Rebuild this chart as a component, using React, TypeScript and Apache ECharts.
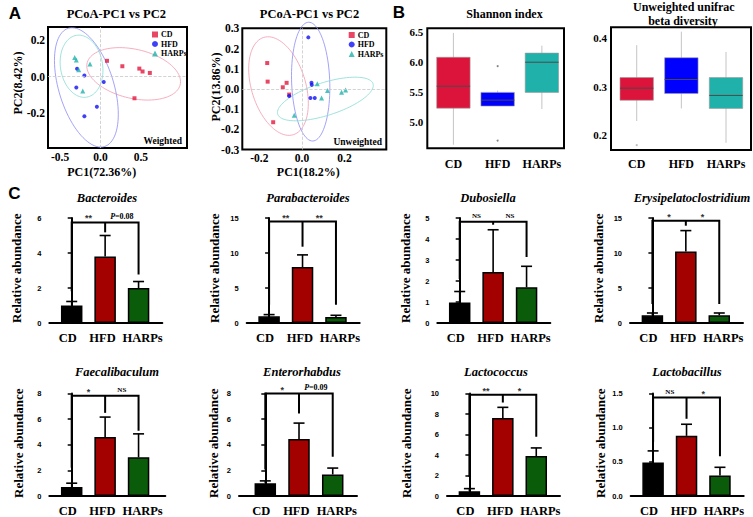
import React, { useEffect, useRef } from "react";
import * as echarts from "echarts";

const SERIF = "'Liberation Serif', 'Times New Roman', serif";
const SANS = "'Liberation Sans', Arial, sans-serif";

const groups = ["CD", "HFD", "HARPs"];
const scatterColors = ["#E3173E", "#1010F5", "#20B2AA"];
const ellipseColors = ["#F29AAE", "#8C8CF5", "#86DCD3"];
const boxColors = ["#DC143C", "#0000FF", "#20B2AA"];
const barColors = ["#000000", "#A30000", "#0A5C0A"];

// ---- Panel A: weighted PCoA (PC1, PC2)
const wCD = [[0.08, 0.087], [0.27, 0.057], [0.48, 0.044], [0.52, 0.028], [0.61, 0.02], [0.42, -0.12]];
const wHFD = [[-0.29, 0.043], [-0.2, 0.006], [0.04, -0.03], [-0.3, -0.06], [-0.045, -0.167], [-0.2, -0.22]];
const wHARPs = [[-0.32, 0.105], [-0.3, 0.092], [-0.27, 0.037], [-0.13, 0.07], [-0.22, -0.08]];
// ellipse: centre x, centre y, half extent x, half extent y, correlation
const wEllipses = [[0.41, 0.015, 0.58, 0.145, -0.3], [-0.175, -0.06, 0.395, 0.33, -0.45], [-0.235, 0.057, 0.265, 0.172, -0.13]];

// ---- Panel A: unweighted PCoA
const uCD = [[-0.163, 0.128], [-0.161, 0.036], [-0.072, 0.03], [-0.09, 0.008], [-0.06, -0.028], [-0.135, -0.165]];
const uHFD = [[0.03, 0.255], [0.045, 0.03], [0.046, 0.02], [-0.06, -0.035], [0.04, -0.045], [0.06, -0.045]];
const uHARPs = [[0.072, 0.025], [0.12, -0.008], [0.205, -0.005], [0.186, -0.016], [0.092, -0.045], [-0.036, -0.13]];
const uEllipses = [[-0.11, 0.014, 0.14, 0.244, -0.35], [0.041, 0.036, 0.09, 0.294, -0.1], [0.11, -0.05, 0.225, 0.108, 0.62]];

// ---- Panel B: box stats [min, Q1, median, Q3, max]
const shannonStats = [[4.61, 5.225, 5.594, 6.08, 6.49], [5.26, 5.26, 5.36, 5.49, 5.52], [5.21, 5.49, 5.997, 6.15, 6.275]];
const shannonOutliers = [[1, 5.93], [1, 4.68]];
const shannonTicks = [5.0, 5.5, 6.0, 6.5];
const unifracStats = [[0.229, 0.272, 0.297, 0.319, 0.386], [0.255, 0.286, 0.315, 0.36, 0.414], [0.184, 0.255, 0.282, 0.319, 0.372]];
const unifracOutliers = [[0, 0.179]];
const unifracTicks = [0.2, 0.3, 0.4];

// ---- Panel C: bar charts
const barTitles = ["Bacteroides", "Parabacteroides", "Dubosiella", "Erysipelatoclostridium", "Faecalibaculum", "Enterorhabdus", "Lactococcus", "Lactobacillus"];
const barMeans = [[1.0, 3.8, 2.0], [0.95, 8.0, 0.86], [0.98, 2.43, 1.7], [1.09, 10.23, 1.09], [0.7, 4.6, 3.02], [1.0, 4.44, 1.68], [0.47, 7.6, 3.9], [0.49, 0.88, 0.3]];
const barErrTops = [[1.23, 5.0, 2.37], [1.2, 9.73, 1.1], [1.5, 4.44, 2.7], [1.43, 13.2, 1.43], [1.0, 6.16, 4.85], [1.18, 5.69, 2.18], [0.72, 8.65, 4.69], [0.66, 1.05, 0.42]];
const barYMax = [6, 15, 5, 15, 8, 8, 10, 1.5];
const barYStep = [2, 5, 1, 5, 2, 2, 2, 0.5];
const bracketY = [5.75, 14.5, 4.82, 14.6, 7.82, 8.0, 9.88, 1.44];
const stemBottoms = [[1.82, 5.18, 2.77], [2.6, 10.9, 2.6], [2.1, 4.68, 3.14], [2.7, 13.9, 2.7], [2.21, 6.49, 5.1], [2.06, 6.44, 3.06], [1.87, 9.12, 5.78], [0.79, 1.13, 0.58]];
const sigLeft = ["**", "**", "NS", "*", "*", "*", "**", "NS"];
const sigRight = ["P=0.08", "**", "NS", "*", "NS", "P=0.09", "*", "*"];

// layout (pixels / axis extents)
const barLayout = [
  { left: 49.3, top: 218, h: 105, w: 113, xmin: -0.67, xmax: 2.71, tx: 107, ty: 198, yx: 16.7, yy: 268.3 },
  { left: 246.7, top: 218, h: 105, w: 113, xmin: -0.67, xmax: 2.71, tx: 308, ty: 198, yx: 214, yy: 268.3 },
  { left: 437.3, top: 218, h: 105, w: 113, xmin: -0.67, xmax: 2.71, tx: 488, ty: 198, yx: 405, yy: 268.3 },
  { left: 630, top: 218, h: 105, w: 113, xmin: -0.67, xmax: 2.71, tx: 692, ty: 198, yx: 598.3, yy: 268.3 },
  { left: 49.3, top: 393.5, h: 106, w: 116, xmin: -0.67, xmax: 2.8, tx: 117, ty: 372, yx: 18.3, yy: 443.3 },
  { left: 239, top: 393.5, h: 106, w: 118, xmin: -0.78, xmax: 2.72, tx: 302, ty: 372, yx: 213.3, yy: 443.3 },
  { left: 447, top: 393.5, h: 106, w: 113, xmin: -0.67, xmax: 2.71, tx: 496, ty: 372, yx: 406.7, yy: 443.3 },
  { left: 630.7, top: 393.5, h: 106, w: 113, xmin: -0.67, xmax: 2.71, tx: 687, ty: 372, yx: 600, yy: 443.3 },
];
const barLabelPos = [-0.12, 0.92, 2.12];

function txt(text: string, x: number, y: number, size: number, o: any = {}) {
  return {
    type: "text",
    x,
    y,
    rotation: o.rot || 0,
    silent: true,
    style: {
      text,
      font: `${o.italic ? "italic " : ""}bold ${size}px ${o.fam || SERIF}`,
      fill: "#000",
      textAlign: o.align || "center",
      textVerticalAlign: "middle",
    },
  };
}

function ellipseSeries(grid: number, data: number[][]) {
  return {
    type: "custom",
    xAxisIndex: grid,
    yAxisIndex: grid,
    silent: true,
    clip: false,
    z: 1,
    encode: { x: 0, y: 1 },
    data,
    renderItem: (params: any, api: any) => {
      const cx = api.value(0), cy = api.value(1), rx = api.value(2), ry = api.value(3), rho = api.value(4);
      const phi = Math.asin(rho);
      const pts: number[][] = [];
      for (let k = 0; k <= 90; k++) {
        const t = (k / 90) * Math.PI * 2;
        pts.push(api.coord([cx + rx * Math.cos(t), cy + ry * Math.sin(t + phi)]));
      }
      return { type: "polyline", shape: { points: pts }, style: { fill: "none", stroke: ellipseColors[params.dataIndex], lineWidth: 0.8 } };
    },
  };
}

function scatterSeries(grid: number, sets: number[][][]) {
  const symbols = ["rect", "circle", "triangle"];
  const sizes = [4, 4, 5];
  return sets.map((d, i) => ({
    type: "scatter",
    name: groups[i],
    xAxisIndex: grid,
    yAxisIndex: grid,
    symbol: symbols[i],
    symbolSize: sizes[i],
    itemStyle: { color: scatterColors[i] },
    data: d,
    z: 3,
    markLine: i === 0 ? {
      silent: true,
      symbol: "none",
      label: { show: false },
      lineStyle: { color: "#c8c8c8", type: "dashed", width: 0.8 },
      data: [{ xAxis: 0 }, { yAxis: 0 }],
    } : undefined,
  }));
}

function boxSeries(grid: number, stats: number[][]) {
  return {
    type: "custom",
    xAxisIndex: grid,
    yAxisIndex: grid,
    silent: true,
    encode: { x: 0, y: 3 },
    data: stats.map((s, i) => [i, ...s]),
    renderItem: (params: any, api: any) => {
      const x = api.value(0);
      const pMin = api.coord([x, api.value(1)]);
      const pQ1 = api.coord([x, api.value(2)]);
      const pMed = api.coord([x, api.value(3)]);
      const pQ3 = api.coord([x, api.value(4)]);
      const pMax = api.coord([x, api.value(5)]);
      const hw = 16.7;
      const col = boxColors[params.dataIndex];
      return {
        type: "group",
        children: [
          { type: "line", shape: { x1: pMax[0], y1: pMax[1], x2: pMin[0], y2: pMin[1] }, style: { stroke: "#c4c4c4", lineWidth: 1 } },
          { type: "rect", shape: { x: pQ3[0] - hw, y: pQ3[1], width: 2 * hw, height: pQ1[1] - pQ3[1] }, style: { fill: col, stroke: "#9a9a9a", lineWidth: 0.6 } },
          { type: "line", shape: { x1: pMed[0] - hw, y1: pMed[1], x2: pMed[0] + hw, y2: pMed[1] }, style: { stroke: "#4a4a4a", lineWidth: 1 } },
        ],
      };
    },
  };
}

function sigText(label: string, x: number, y: number) {
  const isP = label.startsWith("P=");
  const isStar = label.startsWith("*");
  return {
    type: "text",
    x,
    y: y - (isStar ? 4 : 6),
    style: {
      text: isP ? `{i|P}${label.slice(1)}` : label,
      rich: isP ? { i: { fontStyle: "italic", fontWeight: "bold", fontSize: 8, fontFamily: SERIF } } : undefined,
      fontSize: isStar ? 9 : isP ? 8 : 7,
      fontWeight: "bold",
      fontFamily: isStar ? SANS : SERIF,
      fill: isStar ? "#333" : "#000",
      align: "center",
      verticalAlign: "middle",
      textAlign: "center",
      textVerticalAlign: "middle",
    },
  };
}

function buildOption() {
  const grids: any[] = [];
  const xAxes: any[] = [];
  const yAxes: any[] = [];
  const series: any[] = [];
  const lab = (size: number, fam = SERIF) => ({ fontSize: size, fontWeight: "bold", fontFamily: fam, color: "#000" });
  const frameGrid = (left: number, top: number, width: number, height: number) => ({
    left, top, width, height, show: true, borderColor: "#000", borderWidth: 2, backgroundColor: "transparent", containLabel: false,
  });
  const hidden = { axisLine: { show: false }, axisTick: { show: false }, splitLine: { show: false } };

  // grid 0: weighted
  grids.push(frameGrid(48, 27, 139, 121));
  xAxes.push({ gridIndex: 0, type: "value", min: -0.65, max: 1.07, ...hidden, axisLabel: { ...lab(11.5), margin: 3, customValues: [-0.5, 0, 0.5], formatter: (v: number) => v.toFixed(1) } });
  yAxes.push({ gridIndex: 0, type: "value", min: -0.395, max: 0.274, ...hidden, axisLabel: { ...lab(11.5), margin: 3, customValues: [-0.2, 0, 0.2], formatter: (v: number) => v.toFixed(1) } });
  // grid 1: unweighted
  grids.push(frameGrid(242.3, 28.3, 144, 121.2));
  xAxes.push({ gridIndex: 1, type: "value", min: -0.28, max: 0.396, ...hidden, axisLabel: { ...lab(11.5), margin: 2, customValues: [-0.2, 0, 0.2], formatter: (v: number) => v.toFixed(1) } });
  yAxes.push({ gridIndex: 1, type: "value", min: -0.3, max: 0.3, ...hidden, axisLabel: { ...lab(11.5), margin: 3, customValues: [-0.3, -0.2, -0.1, 0, 0.1, 0.2, 0.3], formatter: (v: number) => v.toFixed(1) } });
  // grid 2: shannon
  grids.push(frameGrid(427.3, 28.3, 136.7, 120));
  xAxes.push({ gridIndex: 2, type: "value", min: -0.59, max: 2.5, ...hidden, axisLabel: { ...lab(12), margin: 10, customValues: [0, 1, 2], formatter: (v: number) => groups[Math.round(v)] } });
  yAxes.push({ gridIndex: 2, type: "value", min: 4.55, max: 6.567, ...hidden, axisLabel: { ...lab(11), margin: 4, customValues: shannonTicks, formatter: (v: number) => v.toFixed(1) } });
  // grid 3: unifrac
  grids.push(frameGrid(611, 27.3, 140, 122.7));
  xAxes.push({ gridIndex: 3, type: "value", min: -0.576, max: 2.56, ...hidden, axisLabel: { ...lab(12), margin: 8, customValues: [0, 1, 2], formatter: (v: number) => groups[Math.round(v)] } });
  yAxes.push({ gridIndex: 3, type: "value", min: 0.169, max: 0.423, ...hidden, axisLabel: { ...lab(11), margin: 4, customValues: unifracTicks, formatter: (v: number) => v.toFixed(1) } });

  series.push(ellipseSeries(0, wEllipses), ...scatterSeries(0, [wCD, wHFD, wHARPs]));
  series.push(ellipseSeries(1, uEllipses), ...scatterSeries(1, [uCD, uHFD, uHARPs]));
  series.push(boxSeries(2, shannonStats), boxSeries(3, unifracStats));
  series.push({ type: "scatter", name: "outlier-s", xAxisIndex: 2, yAxisIndex: 2, symbolSize: 2, itemStyle: { color: "#666" }, data: shannonOutliers, silent: true });
  series.push({ type: "scatter", name: "outlier-u", xAxisIndex: 3, yAxisIndex: 3, symbolSize: 2, itemStyle: { color: "#aaa" }, data: unifracOutliers, silent: true });

  const graphics: any[] = [
    txt("A", 15, 13.7, 17, { fam: SANS }),
    txt("B", 398.8, 12.5, 17, { fam: SANS }),
    txt("C", 14.5, 193, 17, { fam: SANS }),
    txt("PCoA-PC1 vs PC2", 116.3, 14, 12.5),
    txt("PCoA-PC1 vs PC2", 309.5, 14, 12.5),
    txt("PC2(8.42%)", 18, 83, 12, { rot: Math.PI / 2 }),
    txt("PC1(72.36%)", 101.7, 171.5, 12),
    txt("PC2(13.86%)", 216, 87, 12, { rot: Math.PI / 2 }),
    txt("PC1(18.2%)", 308.3, 171.5, 12),
    txt("Weighted", 182, 141, 9.5, { align: "right" }),
    txt("Unweighted", 382, 141.5, 9.5, { align: "right" }),
    txt("Shannon index", 504.5, 14, 12),
    txt("Unweighted unifrac", 683.8, 6.5, 12),
    txt("beta diversity", 683, 20.7, 12),
  ];

  // bar charts
  barTitles.forEach((title, k) => {
    const L = barLayout[k];
    const g = 4 + k;
    grids.push({ left: L.left, top: L.top, width: L.w, height: L.h, containLabel: false });
    xAxes.push({
      gridIndex: g, type: "value", min: L.xmin, max: L.xmax,
      axisLine: { show: true, onZero: false, lineStyle: { color: "#000", width: 2 } },
      axisTick: { show: false }, splitLine: { show: false },
      axisLabel: { ...lab(12.5), margin: 8, customValues: barLabelPos, formatter: (v: number) => groups[Math.round(v)] },
    });
    yAxes.push({
      gridIndex: g, type: "value", min: 0, max: barYMax[k], interval: barYStep[k],
      axisLine: { show: true, lineStyle: { color: "#000", width: 2 } },
      axisTick: { show: true, length: 4, lineStyle: { color: "#000", width: 1.5 } },
      splitLine: { show: false },
      axisLabel: { ...lab(7.5, SANS), margin: 8, formatter: (v: number) => (barYStep[k] < 1 ? v.toFixed(1) : String(v)) },
    });
    series.push({
      type: "bar", name: "bars" + k, xAxisIndex: g, yAxisIndex: g, barWidth: 21.5, silent: true, z: 2,
      itemStyle: { borderColor: "#000", borderWidth: 1.5 },
      data: barMeans[k].map((v, i) => ({ value: [i, v], itemStyle: { color: barColors[i] } })),
    });
    series.push({
      type: "custom", name: "err" + k, xAxisIndex: g, yAxisIndex: g, silent: true, z: 3,
      encode: { x: 0, y: 1 },
      data: barMeans[k].map((v, i) => [i, v, barErrTops[k][i]]),
      renderItem: (params: any, api: any) => {
        const x = api.value(0);
        const p0 = api.coord([x, api.value(1)]);
        const p1 = api.coord([x, api.value(2)]);
        return {
          type: "group",
          children: [
            { type: "line", shape: { x1: p0[0], y1: p0[1], x2: p1[0], y2: p1[1] }, style: { stroke: "#000", lineWidth: 1.6 } },
            { type: "line", shape: { x1: p1[0] - 5.5, y1: p1[1], x2: p1[0] + 5.5, y2: p1[1] }, style: { stroke: "#000", lineWidth: 1.6 } },
          ],
        };
      },
    });
    series.push({
      type: "custom", name: "bracket" + k, xAxisIndex: g, yAxisIndex: g, silent: true, z: 4, clip: false,
      encode: { x: 0, y: 1 },
      data: [[1, bracketY[k]]],
      renderItem: (params: any, api: any) => {
        const yl = bracketY[k];
        const st = stemBottoms[k];
        const a = api.coord([0, st[0]]), b = api.coord([0, yl]), c = api.coord([2, yl]), d = api.coord([2, st[2]]);
        const m0 = api.coord([1, yl]), m1 = api.coord([1, st[1]]);
        const l1 = api.coord([0.5, yl]), l2 = api.coord([1.5, yl]);
        return {
          type: "group",
          children: [
            { type: "polyline", shape: { points: [a, b, c, d] }, style: { fill: "none", stroke: "#000", lineWidth: 2, lineJoin: "miter" } },
            { type: "line", shape: { x1: m0[0], y1: m0[1], x2: m1[0], y2: m1[1] }, style: { stroke: "#000", lineWidth: 2 } },
            sigText(sigLeft[k], l1[0], l1[1]),
            sigText(sigRight[k], l2[0], l2[1]),
          ],
        };
      },
    });
    graphics.push(txt(title, L.tx, L.ty, 12.5, { italic: true }));
    graphics.push(txt("Relative abundance", L.yx, L.yy, 13, { rot: Math.PI / 2 }));
  });

  const legendBase = {
    orient: "vertical", itemWidth: 6, itemHeight: 6, itemGap: 1.5, padding: 0, selectedMode: false,
    textStyle: { fontSize: 8, fontWeight: "bold", fontFamily: SERIF, color: "#000", padding: [0, 0, 0, -2] },
    data: [{ name: "CD", icon: "rect" }, { name: "HFD", icon: "circle" }, { name: "HARPs", icon: "triangle" }],
  };

  return {
    animation: false,
    backgroundColor: "#fff",
    grid: grids,
    xAxis: xAxes,
    yAxis: yAxes,
    legend: [
      { ...legendBase, left: 152, top: 30.5 },
      { ...legendBase, left: 348.7, top: 31 },
    ],
    series,
    graphic: graphics,
  };
}

export default function App() {
  const ref = useRef<HTMLDivElement>(null);
  useEffect(() => {
    document.body.style.margin = "0";
    const chart = echarts.init(ref.current!, undefined, { renderer: "svg" });
    chart.setOption(buildOption() as any);
    return () => chart.dispose();
  }, []);
  return <div ref={ref} style={{ position: "absolute", left: 0, top: 0, width: 753, height: 517, background: "#fff" }} />;
}
